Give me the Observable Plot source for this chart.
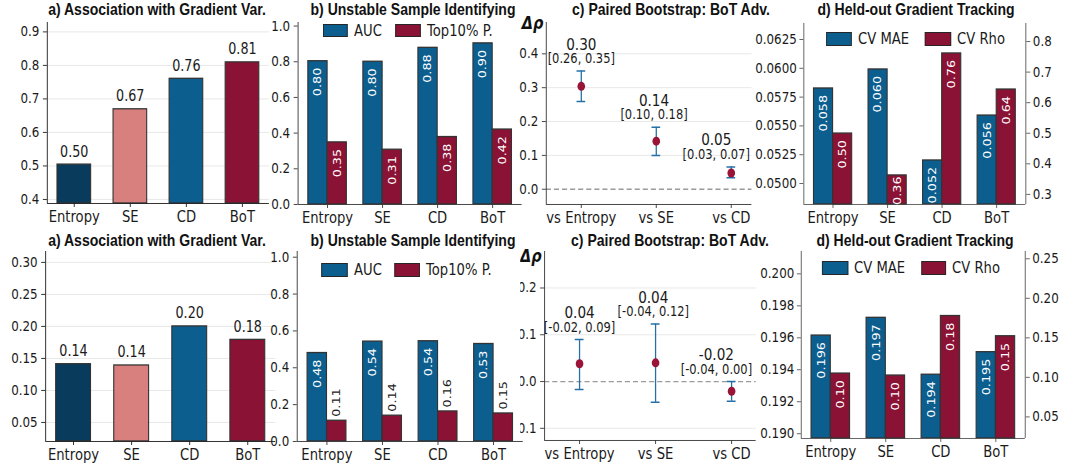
<!DOCTYPE html>
<html>
<head>
<meta charset="utf-8">
<script src="https://cdn.jsdelivr.net/npm/d3@7"></script>
<script src="https://cdn.jsdelivr.net/npm/@observablehq/plot@0.6"></script>
<style>
  html, body { margin: 0; padding: 0; background: #fff; }
  #wrap { position: relative; width: 1065px; height: 467px; overflow: hidden; background: #fff; }
  #stage { position: absolute; left: 0; top: 0; height: 467px; transform-origin: 0 0; }
  .title { position: absolute; white-space: nowrap; font-family: "Liberation Sans", Arial, sans-serif;
           font-weight: bold; font-size: 16.5px; line-height: 16.5px; color: #111; transform: translateX(-50%); }
  .lgbox { position: absolute; box-sizing: border-box; border: 1.6px solid #262626; }
  .lgtxt { position: absolute; white-space: nowrap; font-family: "DejaVu Sans", sans-serif; font-size: 15.5px;
           line-height: 18px; color: #1a1a1a; }
</style>
</head>
<body>
<div id="wrap"><div id="stage"></div></div>
<script>
// ---------------- data ----------------
const methods = ["Entropy", "SE", "CD", "BoT"];
const comparisons = ["vs Entropy", "vs SE", "vs CD"];
const panelTitles = ["a) Association with Gradient Var.", "b) Unstable Sample Identifying",
                     "c) Paired Bootstrap: BoT Adv.", "d) Held-out Gradient Tracking"];
const seriesB = ["AUC", "Top10% P."];
const seriesD = ["CV MAE", "CV Rho"];

// row 1
const assocTop = [0.504, 0.669, 0.760, 0.809];
const aucTop   = [0.803, 0.800, 0.878, 0.903];
const top10Top = [0.348, 0.307, 0.378, 0.420];
const deltaTop = [0.304, 0.142, 0.048];
const ciLoTop  = [0.259, 0.100, 0.034];
const ciHiTop  = [0.349, 0.183, 0.066];
const maeTop   = [0.05825, 0.0599, 0.0520, 0.0559];
const rhoTop   = [0.499, 0.362, 0.761, 0.643];
// row 2
const assocBot = [0.141, 0.139, 0.200, 0.179];
const aucBot   = [0.480, 0.542, 0.544, 0.529];
const top10Bot = [0.1125, 0.140, 0.163, 0.152];
const deltaBot = [0.038, 0.040, -0.0207];
const ciLoBot  = [-0.017, -0.044, -0.042];
const ciHiBot  = [0.0897, 0.123, 0.000];
const maeBot   = [0.19614, 0.19725, 0.19369, 0.1951];
const rhoBot   = [0.1048, 0.1023, 0.1776, 0.152];

// tick values
const ticksA1 = [0.4, 0.5, 0.6, 0.7, 0.8, 0.9];
const ticksA2 = [0.05, 0.10, 0.15, 0.20, 0.25, 0.30];
const ticksB  = [0, 0.2, 0.4, 0.6, 0.8, 1.0];
const ticksC1 = [0, 0.1, 0.2, 0.3, 0.4];
const ticksC2 = [-0.1, 0, 0.1, 0.2];
const ticksD1L = [0.05, 0.0525, 0.055, 0.0575, 0.06, 0.0625];
const ticksD1R = [0.3, 0.4, 0.5, 0.6, 0.7, 0.8];
const ticksD2L = [0.190, 0.192, 0.194, 0.196, 0.198, 0.200];
const ticksD2R = [0.05, 0.10, 0.15, 0.20, 0.25];

// ---------------- style ----------------
const S = 0.85;                 // horizontal squeeze of the reference
const V = x => x / S;           // real px -> stage px
const FONT = "'DejaVu Sans', sans-serif";
const INK = "#1a1a1a";
const SPINE = "#3a3a3a";
const GRID = "#e6e6e6";
const EDGE = "#333333";
const C_NAVY = "#083b5c", C_PINK = "#d8807e", C_BLUE = "#0b5e8e", C_RED = "#8a1234";
const C_ERR = "#2470a6", C_DOT = "#9a1437";
const methodColor = [C_NAVY, C_PINK, C_BLUE, C_RED];
const FS_YT = 14, FS_XT = 15.5, FS_VAL = 15, FS_BAR = 12.8;

const stage = document.getElementById("stage");
stage.style.width = V(1065) + "px";
stage.style.transform = `scaleX(${S})`;

function frameOpts(f, xDomain, yDomain) {
  const bx0 = f.x0 - 52, bx1 = f.x1 + 48, by0 = f.y0 - 20, by1 = f.y1 + 26;
  return {
    box: {bx0, bx1, by0, by1},
    opts: {
      width: V(bx1 - bx0), height: by1 - by0,
      marginLeft: V(f.x0 - bx0), marginRight: V(bx1 - f.x1),
      marginTop: f.y0 - by0, marginBottom: by1 - f.y1,
      x: {domain: xDomain}, y: {domain: yDomain},
      color: {type: "identity"},
      style: {background: "transparent", overflow: "visible", fontFamily: FONT, color: INK, maxWidth: "none"}
    }
  };
}

function mount(svg, box, clip) {
  const wrap = document.createElement("div");
  wrap.style.position = "absolute";
  wrap.style.top = box.by0 + "px";
  svg.style.display = "block";
  if (clip) {
    wrap.style.left = V(clip[0]) + "px";
    wrap.style.width = V(clip[1] - clip[0]) + "px";
    wrap.style.height = (box.by1 - box.by0) + "px";
    wrap.style.overflow = "hidden";
    svg.style.position = "absolute";
    svg.style.left = V(box.bx0 - clip[0]) + "px";
    svg.style.top = "0px";
  } else {
    wrap.style.left = V(box.bx0) + "px";
  }
  wrap.appendChild(svg);
  stage.appendChild(wrap);
}

const yAxis = (ticks, fmt, anchor = "left", stroke = SPINE, pad = 4) => Plot.axisY({
  anchor, ticks, tickFormat: fmt, tickSize: V(4), tickPadding: V(pad), fontSize: FS_YT,
  label: null, stroke, fill: INK
});
const xAxis = (labels, stroke = SPINE) => Plot.axisX({
  ticks: labels.map((_, i) => i), tickFormat: i => labels[i], tickSize: 4, tickPadding: 4,
  fontSize: FS_XT, label: null, stroke, fill: INK
});

// top anchor of a label written downwards inside a bar: a small gap under the bar top,
// raised when the bar is too short for the whole text
function inBarY(f, yDomain, y0, fs, gap) {
  const k = (yDomain[1] - yDomain[0]) / (f.y1 - f.y0);
  const len = t => [...t].reduce((s, c) => s + (c === "." ? 0.318 : 0.636), 0) * fs;
  return (v, t) => Math.min(v - 1 * k, Math.max(v - gap * k, y0 + (len(t) + 1) * k));
}

// ---------------- panel a ----------------
function drawAssoc(vals, f, yDomain, ticks, fmt) {
  const rows = vals.map((v, i) => ({i, v}));
  const xd = [-0.48, 3.48], y0 = yDomain[0];
  const {box, opts} = frameOpts(f, xd, yDomain);
  const svg = Plot.plot({...opts, marks: [
    Plot.gridY({ticks, stroke: GRID, strokeOpacity: 1}),
    Plot.rectY(rows, {x1: d => d.i - 0.3, x2: d => d.i + 0.3, y1: () => y0, y2: "v",
      fill: d => methodColor[d.i], stroke: EDGE, strokeWidth: 1.3}),
    Plot.text(rows, {x: "i", y: "v", text: d => d.v.toFixed(2), dy: -8, lineAnchor: "bottom",
      fontSize: FS_VAL, fill: INK}),
    yAxis(ticks, fmt, "left", "#222"),
    xAxis(methods, "#222"),
    Plot.ruleX([xd[0]], {stroke: "#222"}),
    Plot.ruleY([y0], {stroke: "#222"})
  ]});
  mount(svg, box);
}

// ---------------- panel b ----------------
function drawUnstable(auc, top10, f, yDomain) {
  const W = 0.35, y0 = yDomain[0];
  const rows = [
    ...auc.map((v, i) => ({i, v, s: 0, x1: i - W, x2: i, t: v.toFixed(2)})),
    ...top10.map((v, i) => ({i, v, s: 1, x1: i, x2: i + W, t: v.toFixed(2)}))
  ];
  const inside = rows.filter(d => d.v >= 0.2), outside = rows.filter(d => d.v < 0.2);
  const xd = [-0.535, 3.535];
  const ly = inBarY(f, yDomain, y0, FS_BAR, 6.5);
  const {box, opts} = frameOpts(f, xd, yDomain);
  const svg = Plot.plot({...opts, marks: [
    Plot.rectY(rows, {x1: "x1", x2: "x2", y1: () => y0, y2: "v",
      fill: d => d.s ? C_RED : C_BLUE, stroke: EDGE, strokeWidth: 1.3}),
    Plot.text(inside, {x: d => (d.x1 + d.x2) / 2, y: d => ly(d.v, d.t), text: "t",
      rotate: -90, textAnchor: "end", lineAnchor: "middle", fontSize: FS_BAR, fill: "white"}),
    Plot.text(outside, {x: d => (d.x1 + d.x2) / 2, y: "v", text: "t", rotate: -90,
      textAnchor: "start", lineAnchor: "middle", dy: -4, fontSize: FS_BAR, fill: INK}),
    yAxis(ticksB, d3.format(".1f")),
    xAxis(methods),
    Plot.ruleX([xd[0]], {stroke: SPINE}),
    Plot.ruleY([y0], {stroke: SPINE})
  ]});
  mount(svg, box);
}

// ---------------- panel c ----------------
function drawBoot(delta, lo, hi, f, xd, yDomain, ticks, grid, clip, dRho) {
  const n = delta.length;
  const rows = delta.map((d, i) => ({i, d, lo: lo[i], hi: hi[i]}));
  const cap = 0.058;
  const fmt2 = v => (Math.abs(v) < 0.005 ? 0 : v).toFixed(2);
  // labels of the last comparison sit a little to the left (kept inside the panel)
  const lx = d => d.i === n - 1 ? d.i - 0.2 : d.i - 0.03 * d.i;
  const {box, opts} = frameOpts(f, xd, yDomain);
  const svg = Plot.plot({...opts, marks: [
    Plot.gridY({ticks: grid, stroke: GRID, strokeOpacity: 1}),
    Plot.ruleY([0], {stroke: "#9a9a9a", strokeWidth: 1.3, strokeDasharray: "6,3.5"}),
    Plot.ruleX(rows, {x: "i", y1: "lo", y2: "hi", stroke: C_ERR, strokeWidth: 1.5}),
    Plot.ruleY(rows, {y: "hi", x1: d => d.i - cap, x2: d => d.i + cap, stroke: C_ERR, strokeWidth: 1.5}),
    Plot.ruleY(rows, {y: "lo", x1: d => d.i - cap, x2: d => d.i + cap, stroke: C_ERR, strokeWidth: 1.5}),
    Plot.dot(rows, {x: "i", y: "d", r: 4.5, fill: C_DOT, stroke: "none"}),
    Plot.text(rows, {x: lx, y: "hi", text: d => `[${fmt2(d.lo)}, ${fmt2(d.hi)}]`, dy: -8,
      lineAnchor: "bottom", fontSize: 13.5, fill: INK}),
    Plot.text(rows, {x: lx, y: "hi", text: d => d.d.toFixed(2), dy: -21.5,
      lineAnchor: "bottom", fontSize: 16, fill: INK}),
    Plot.text(["Δρ"], {frameAnchor: "top-left", text: d => d, dx: -V(3), dy: dRho, textAnchor: "end",
      lineAnchor: "bottom", fontSize: 17, fontWeight: "bold", fontStyle: "italic", fill: "#111"}),
    yAxis(ticks, d3.format(".1f")),
    xAxis(comparisons),
    Plot.ruleX([xd[0]], {stroke: SPINE}),
    Plot.ruleY([yDomain[0]], {stroke: SPINE})
  ]});
  mount(svg, box, clip);
}

// ---------------- panel d ----------------
function drawTracking(mae, rho, f, yL, yR, ticksL, ticksR, fmtL, fmtR) {
  const W = 0.35, xd = [-0.535, 3.535];
  const maeRows = mae.map((v, i) => ({i, v, x1: i - W, x2: i, t: v.toFixed(3)}));
  const rhoRows = rho.map((v, i) => ({i, v, x1: i, x2: i + W, t: v.toFixed(2)}));
  const D_SPINE = "#5a5a5a";
  const lyL = inBarY(f, yL, yL[0], FS_BAR, 6.5), lyR = inBarY(f, yR, yR[0], FS_BAR, 6.5);
  const A = frameOpts(f, xd, yL);
  const svg1 = Plot.plot({...A.opts, marks: [
    Plot.rectY(maeRows, {x1: "x1", x2: "x2", y1: () => yL[0], y2: "v", fill: C_BLUE, stroke: EDGE, strokeWidth: 1.3}),
    Plot.text(maeRows, {x: d => (d.x1 + d.x2) / 2, y: d => lyL(d.v, d.t), text: "t", rotate: -90,
      textAnchor: "end", lineAnchor: "middle", fontSize: FS_BAR, fill: "white"}),
    yAxis(ticksL, fmtL, "left", D_SPINE, 3),
    xAxis(methods, D_SPINE),
    Plot.ruleX([xd[0]], {stroke: D_SPINE}),
    Plot.ruleY([yL[0]], {stroke: D_SPINE})
  ]});
  mount(svg1, A.box);
  const B = frameOpts(f, xd, yR);
  const svg2 = Plot.plot({...B.opts, x: {domain: xd, axis: null}, marks: [
    Plot.rectY(rhoRows, {x1: "x1", x2: "x2", y1: () => yR[0], y2: "v", fill: C_RED, stroke: EDGE, strokeWidth: 1.3}),
    Plot.text(rhoRows, {x: d => (d.x1 + d.x2) / 2, y: d => lyR(d.v, d.t), text: "t", rotate: -90,
      textAnchor: "end", lineAnchor: "middle", fontSize: FS_BAR, fill: "white"}),
    Plot.axisY({anchor: "right", ticks: ticksR, tickFormat: fmtR, tickSize: V(4), tickPadding: V(3),
      fontSize: FS_YT, label: null, stroke: D_SPINE, fill: INK}),
    Plot.ruleX([xd[1]], {stroke: D_SPINE})
  ]});
  mount(svg2, B.box);
}

// ---------------- titles & legends ----------------
function title(text, cx, baseline) {
  const el = document.createElement("div");
  el.className = "title";
  el.textContent = text;
  el.style.left = V(cx) + "px";
  el.style.top = (baseline - 14) + "px";
  stage.appendChild(el);
}
function legend(items, y0, h) {
  for (const it of items) {
    const b = document.createElement("div");
    b.className = "lgbox";
    b.style.left = V(it.x0) + "px"; b.style.width = V(it.x1 - it.x0) + "px";
    b.style.top = y0 + "px"; b.style.height = h + "px"; b.style.background = it.color;
    stage.appendChild(b);
    const t = document.createElement("div");
    t.className = "lgtxt";
    t.textContent = it.label;
    t.style.left = V(it.x1 + 6) + "px";
    t.style.top = (y0 + h / 2 - 9) + "px";
    stage.appendChild(t);
  }
}

// ---------------- layout ----------------
// top row
drawAssoc(assocTop, {x0: 47, x1: 269, y0: 22, y1: 203}, [0.388, 0.928], ticksA1, d3.format(".1f"));
drawUnstable(aucTop, top10Top, {x0: 298, x1: 522, y0: 22, y1: 204}, [0, 1.02]);
drawBoot(deltaTop, ciLoTop, ciHiTop, {x0: 546, x1: 766, y0: 22, y1: 204}, [-0.467, 2.467],
         [-0.045, 0.4925], ticksC1, [0.1, 0.2, 0.3, 0.4], [518, 751], 7);
drawTracking(maeTop, rhoTop, {x0: 803, x1: 1025, y0: 23, y1: 204}, [0.04818, 0.06389], [0.267, 0.859],
             ticksD1L, ticksD1R, d3.format(".4f"), d3.format(".1f"));
// bottom row
drawAssoc(assocBot, {x0: 45, x1: 275, y0: 251, y1: 441}, [0.0203, 0.317], ticksA2, d3.format(".2f"));
drawUnstable(aucBot, top10Bot, {x0: 297, x1: 523, y0: 251, y1: 441}, [0, 1.031]);
drawBoot(deltaBot, ciLoBot, ciHiBot, {x0: 544, x1: 766, y0: 251, y1: 440}, [-0.46, 2.46],
         [-0.126, 0.278], ticksC2, [-0.1, 0.1, 0.2], [520, 756], 11);
drawTracking(maeBot, rhoBot, {x0: 801, x1: 1025, y0: 251, y1: 438}, [0.1897, 0.2014], [0.0227, 0.2592],
             ticksD2L, ticksD2R, d3.format(".3f"), d3.format(".2f"));

[157, 413, 671, 916].forEach((cx, k) => title(panelTitles[k], cx, 15));
[157, 413, 670, 915].forEach((cx, k) => title(panelTitles[k], cx, 246));

legend([{x0: 323, x1: 348, color: C_BLUE, label: seriesB[0]}, {x0: 395, x1: 421, color: C_RED, label: seriesB[1]}], 24, 13);
legend([{x0: 321, x1: 348, color: C_BLUE, label: seriesB[0]}, {x0: 394, x1: 420, color: C_RED, label: seriesB[1]}], 263, 13.5);
legend([{x0: 826, x1: 852, color: C_BLUE, label: seriesD[0]}, {x0: 925, x1: 951, color: C_RED, label: seriesD[1]}], 32, 13.5);
legend([{x0: 822, x1: 848, color: C_BLUE, label: seriesD[0]}, {x0: 921, x1: 946, color: C_RED, label: seriesD[1]}], 261, 13.5);
</script>
</body>
</html>
